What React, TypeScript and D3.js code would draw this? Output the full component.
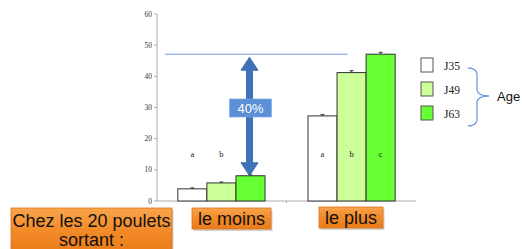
import React from "react";
import * as d3 from "d3";

const W = 522;
const H = 249;

// data
const groups = ["le moins", "le plus"];
const ages = ["J35", "J49", "J63"];
const means = [
  [3.9, 5.8, 8.1],
  [27.3, 41.2, 47.1],
];
const errs = [
  [0.3, 0.3, 0.3],
  [0.4, 0.6, 0.6],
];
const letters = [
  ["a", "b", ""],
  ["a", "b", "c"],
];
const yTicks = [0, 10, 20, 30, 40, 50, 60];
const colors = ["#ffffff", "#ccff99", "#66ff33"];
const refValue = 47.1;
const pctLabel = "40%";

const PLOT_LEFT = 157;
const PLOT_RIGHT = 416;
const PLOT_TOP = 14;
const PLOT_BOTTOM = 201;

export default function App() {
  const y = d3.scaleLinear().domain([0, 60]).range([PLOT_BOTTOM, PLOT_TOP]);
  const x0 = d3.scaleBand().domain(groups).range([PLOT_LEFT, PLOT_RIGHT]).paddingInner(0.33).paddingOuter(0.16);
  const x1 = d3.scaleBand().domain(ages).range([0, x0.bandwidth()]);

  const arrowX = x0("le moins")! + x1("J63")! + x1.bandwidth() / 2 - 1;
  const arrowTop = y(refValue) + 3;
  const arrowBot = y(means[0][2]);
  const headH = 13;
  const headW = 8.5;
  const shaftW = 3;

  const arrowPath = [
    `M${arrowX},${arrowTop}`,
    `L${arrowX + headW},${arrowTop + headH}`,
    `L${arrowX + shaftW},${arrowTop + headH}`,
    `L${arrowX + shaftW},${arrowBot - headH}`,
    `L${arrowX + headW},${arrowBot - headH}`,
    `L${arrowX},${arrowBot}`,
    `L${arrowX - headW},${arrowBot - headH}`,
    `L${arrowX - shaftW},${arrowBot - headH}`,
    `L${arrowX - shaftW},${arrowTop + headH}`,
    `L${arrowX - headW},${arrowTop + headH}`,
    "Z",
  ].join(" ");

  const sans = "'Liberation Sans', Arial, sans-serif";
  const serif = "'Liberation Serif', 'Times New Roman', serif";

  const orangeBox = (bx: number, by: number, bw: number, bh: number) => (
    <g>
      <rect x={bx + 1.5} y={by + 2} width={bw} height={bh} fill="#9a9a9a" opacity={0.45} />
      <rect x={bx} y={by} width={bw} height={bh} fill="url(#og)" stroke="#d9741a" strokeWidth={0.8} />
    </g>
  );

  return (
    <svg width={W} height={H} style={{ position: "absolute", left: 0, top: 0, background: "#fff" }}>
      <defs>
        <linearGradient id="og" x1="0" y1="0" x2="0" y2="1">
          <stop offset="0" stopColor="#f9a44c" />
          <stop offset="0.5" stopColor="#f28a28" />
          <stop offset="1" stopColor="#ea7b18" />
        </linearGradient>
      </defs>

      {/* y axis */}
      <line x1={PLOT_LEFT} x2={PLOT_LEFT} y1={y(60)} y2={y(0)} stroke="#999" strokeWidth={0.8} />
      {yTicks.map((t) => (
        <g key={t}>
          <line x1={PLOT_LEFT - 3} x2={PLOT_LEFT} y1={y(t)} y2={y(t)} stroke="#999" strokeWidth={0.8} />
          <text x={PLOT_LEFT - 5} y={y(t) + 2.5} textAnchor="end" fontFamily={serif} fontSize={7.5} fill="#333">
            {t}
          </text>
        </g>
      ))}
      {/* x axis */}
      <line x1={PLOT_LEFT} x2={PLOT_RIGHT} y1={y(0)} y2={y(0)} stroke="#aaa" strokeWidth={1} />
      <line x1={(PLOT_LEFT + PLOT_RIGHT) / 2} x2={(PLOT_LEFT + PLOT_RIGHT) / 2} y1={y(0)} y2={y(0) + 2} stroke="#aaa" />

      {/* reference line */}
      <line x1={165} x2={x0("le plus")! + x1("J49")! + x1.bandwidth() / 2 - 4} y1={y(refValue)} y2={y(refValue)} stroke="#6f9be0" strokeWidth={1} />

      {/* bars */}
      {groups.map((g, gi) => (
        <g key={g} transform={`translate(${x0(g)},0)`}>
          {ages.map((a, ai) => {
            const bx = x1(a)!;
            const bw = x1.bandwidth();
            const cx = bx + bw / 2;
            return (
              <g key={a}>
                <rect x={bx} y={y(means[gi][ai])} width={bw} height={y(0) - y(means[gi][ai])} fill={colors[ai]} stroke="#333" strokeWidth={1} />
                <line x1={cx} x2={cx} y1={y(means[gi][ai] + errs[gi][ai])} y2={y(means[gi][ai])} stroke="#333" />
                <line x1={cx - 2} x2={cx + 2} y1={y(means[gi][ai] + errs[gi][ai])} y2={y(means[gi][ai] + errs[gi][ai])} stroke="#333" />
                {letters[gi][ai] && (
                  <text x={cx} y={y(14.1)} textAnchor="middle" fontFamily={serif} fontSize={8.5} fill="#222">
                    {letters[gi][ai]}
                  </text>
                )}
              </g>
            );
          })}
        </g>
      ))}

      {/* double arrow */}
      <path d={arrowPath} fill="#3f73b8" stroke="#2d5c9c" strokeWidth={0.8} />
      <rect x={arrowX - 20} y={99} width={42} height={18} fill="#5b8fd6" stroke="#7aa6e2" strokeWidth={0.6} />
      <text x={arrowX + 1} y={113} textAnchor="middle" fontFamily={sans} fontSize={13} fill="#fff">
        {pctLabel}
      </text>

      {/* legend */}
      {ages.map((a, i) => (
        <g key={a} transform={`translate(421,${58 + i * 24})`}>
          <rect x={0} y={0} width={12} height={14} fill={colors[i]} stroke="#555" strokeWidth={1} />
          <text x={23} y={11.5} fontFamily={serif} fontSize={11.5} fill="#222">
            {a}
          </text>
        </g>
      ))}
      <path
        d="M468,68 Q476,68 477,74 L477,90 Q478,96 489,96 Q478,96 477,102 L477,120 Q476,126 468,126"
        fill="none"
        stroke="#6f9be0"
        strokeWidth={1.3}
      />
      <text x={497} y={101} fontFamily={sans} fontSize={13} fill="#111">
        Age
      </text>

      {/* bottom labels */}
      {orangeBox(11, 208, 161, 46)}
      <text x={91.5} y={227} textAnchor="middle" fontFamily={sans} fontSize={18} fill="#111">
        Chez les 20 poulets
      </text>
      <text x={91.5} y={246} textAnchor="middle" fontFamily={sans} fontSize={18} fill="#111">
        sortant :
      </text>
      {orangeBox(192, 208, 79, 21)}
      <text x={231.5} y={224.5} textAnchor="middle" fontFamily={sans} fontSize={18} fill="#111">
        {groups[0]}
      </text>
      {orangeBox(319, 207, 64, 21)}
      <text x={351} y={223.5} textAnchor="middle" fontFamily={sans} fontSize={18} fill="#111">
        {groups[1]}
      </text>
    </svg>
  );
}
